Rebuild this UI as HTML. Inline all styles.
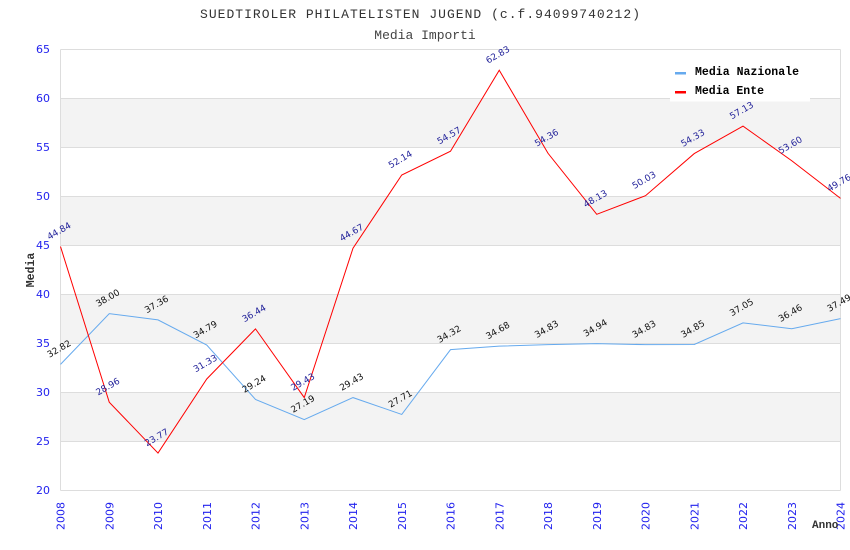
<!DOCTYPE html>
<html><head><meta charset="utf-8"><style>
html,body{margin:0;padding:0;background:#fff;}
svg{display:block;}
</style></head><body>
<svg width="850" height="550" viewBox="0 0 850 550" xmlns="http://www.w3.org/2000/svg">
<rect width="850" height="550" fill="#fff"/>
<text x="420" y="18" text-anchor="middle" font-family="Liberation Mono, monospace" font-size="13" fill="#333" textLength="440" lengthAdjust="spacing">SUEDTIROLER PHILATELISTEN JUGEND (c.f.94099740212)</text>
<text x="425" y="39" text-anchor="middle" font-family="Liberation Mono, monospace" font-size="13" fill="#444">Media Importi</text>
<g fill="#f3f3f3">
<rect x="60.5" y="98" width="780" height="49"/>
<rect x="60.5" y="196" width="780" height="49"/>
<rect x="60.5" y="294" width="780" height="49"/>
<rect x="60.5" y="392" width="780" height="49"/>
</g>
<g stroke="#dddddd" stroke-width="1">
<line x1="60.5" y1="49.5" x2="840.5" y2="49.5"/>
<line x1="60.5" y1="98.5" x2="840.5" y2="98.5"/>
<line x1="60.5" y1="147.5" x2="840.5" y2="147.5"/>
<line x1="60.5" y1="196.5" x2="840.5" y2="196.5"/>
<line x1="60.5" y1="245.5" x2="840.5" y2="245.5"/>
<line x1="60.5" y1="294.5" x2="840.5" y2="294.5"/>
<line x1="60.5" y1="343.5" x2="840.5" y2="343.5"/>
<line x1="60.5" y1="392.5" x2="840.5" y2="392.5"/>
<line x1="60.5" y1="441.5" x2="840.5" y2="441.5"/>
<line x1="60.5" y1="490.5" x2="840.5" y2="490.5"/>
<line x1="60.5" y1="49.5" x2="60.5" y2="490.5"/>
<line x1="840.5" y1="49.5" x2="840.5" y2="490.5"/>
</g>
<g font-family="DejaVu Sans, sans-serif" font-size="11" fill="#2222ee" text-anchor="end">
<text x="50" y="53">65</text>
<text x="50" y="102">60</text>
<text x="50" y="151">55</text>
<text x="50" y="200">50</text>
<text x="50" y="249">45</text>
<text x="50" y="298">40</text>
<text x="50" y="347">35</text>
<text x="50" y="396">30</text>
<text x="50" y="445">25</text>
<text x="50" y="494">20</text>
</g>
<g font-family="DejaVu Sans, sans-serif" font-size="11" fill="#2222ee" text-anchor="end">
<text transform="translate(64.5,502) rotate(-90)">2008</text>
<text transform="translate(113.25,502) rotate(-90)">2009</text>
<text transform="translate(162,502) rotate(-90)">2010</text>
<text transform="translate(210.75,502) rotate(-90)">2011</text>
<text transform="translate(259.5,502) rotate(-90)">2012</text>
<text transform="translate(308.25,502) rotate(-90)">2013</text>
<text transform="translate(357,502) rotate(-90)">2014</text>
<text transform="translate(405.75,502) rotate(-90)">2015</text>
<text transform="translate(454.5,502) rotate(-90)">2016</text>
<text transform="translate(503.25,502) rotate(-90)">2017</text>
<text transform="translate(552,502) rotate(-90)">2018</text>
<text transform="translate(600.75,502) rotate(-90)">2019</text>
<text transform="translate(649.5,502) rotate(-90)">2020</text>
<text transform="translate(698.25,502) rotate(-90)">2021</text>
<text transform="translate(747,502) rotate(-90)">2022</text>
<text transform="translate(795.75,502) rotate(-90)">2023</text>
<text transform="translate(844.5,502) rotate(-90)">2024</text>
</g>
<text transform="translate(34,270) rotate(-90)" text-anchor="middle" font-family="Liberation Mono, monospace" font-weight="bold" font-size="11.5" fill="#333">Media</text>
<text x="812" y="528" font-family="Liberation Mono, monospace" font-weight="bold" font-size="11" fill="#333">Anno</text>
<polyline fill="none" stroke="#66aaee" stroke-width="1" points="60.5,364.36 109.25,313.6 158,319.87 206.75,345.06 255.5,399.45 304.25,419.54 353,397.59 401.75,414.44 450.5,349.66 499.25,346.14 548,344.67 596.75,343.59 645.5,344.67 694.25,344.47 743,322.91 791.75,328.69 840.5,318.6"/>
<polyline fill="none" stroke="#ff0000" stroke-width="1" points="60.5,246.57 109.25,402.19 158,453.05 206.75,378.97 255.5,328.89 304.25,397.59 353,248.23 401.75,175.03 450.5,151.21 499.25,70.27 548,153.27 596.75,214.33 645.5,195.71 694.25,153.57 743,126.13 791.75,160.72 840.5,198.35"/>
<g font-family="DejaVu Sans, sans-serif" font-size="9" fill="#111" text-anchor="middle">
<text transform="translate(60.5,351.4) rotate(-30)">32.82</text>
<text transform="translate(109.25,300.6) rotate(-30)">38.00</text>
<text transform="translate(158,306.9) rotate(-30)">37.36</text>
<text transform="translate(206.75,332.1) rotate(-30)">34.79</text>
<text transform="translate(255.5,386.5) rotate(-30)">29.24</text>
<text transform="translate(304.25,406.5) rotate(-30)">27.19</text>
<text transform="translate(353,384.6) rotate(-30)">29.43</text>
<text transform="translate(401.75,401.4) rotate(-30)">27.71</text>
<text transform="translate(450.5,336.7) rotate(-30)">34.32</text>
<text transform="translate(499.25,333.1) rotate(-30)">34.68</text>
<text transform="translate(548,331.7) rotate(-30)">34.83</text>
<text transform="translate(596.75,330.6) rotate(-30)">34.94</text>
<text transform="translate(645.5,331.7) rotate(-30)">34.83</text>
<text transform="translate(694.25,331.5) rotate(-30)">34.85</text>
<text transform="translate(743,309.9) rotate(-30)">37.05</text>
<text transform="translate(791.75,315.7) rotate(-30)">36.46</text>
<text transform="translate(840.5,305.6) rotate(-30)">37.49</text>
</g>
<g font-family="DejaVu Sans, sans-serif" font-size="9" fill="#22229a" text-anchor="middle">
<text transform="translate(60.5,233.6) rotate(-30)">44.84</text>
<text transform="translate(109.25,389.2) rotate(-30)">28.96</text>
<text transform="translate(158,440) rotate(-30)">23.77</text>
<text transform="translate(206.75,366) rotate(-30)">31.33</text>
<text transform="translate(255.5,315.9) rotate(-30)">36.44</text>
<text transform="translate(304.25,384.6) rotate(-30)">29.43</text>
<text transform="translate(353,235.2) rotate(-30)">44.67</text>
<text transform="translate(401.75,162) rotate(-30)">52.14</text>
<text transform="translate(450.5,138.2) rotate(-30)">54.57</text>
<text transform="translate(499.25,57.3) rotate(-30)">62.83</text>
<text transform="translate(548,140.3) rotate(-30)">54.36</text>
<text transform="translate(596.75,201.3) rotate(-30)">48.13</text>
<text transform="translate(645.5,182.7) rotate(-30)">50.03</text>
<text transform="translate(694.25,140.6) rotate(-30)">54.33</text>
<text transform="translate(743,113.1) rotate(-30)">57.13</text>
<text transform="translate(791.75,147.7) rotate(-30)">53.60</text>
<text transform="translate(840.5,185.4) rotate(-30)">49.76</text>
</g>
<rect x="670" y="57" width="140" height="44.5" fill="#fff"/>
<rect x="675" y="72" width="11" height="2.5" fill="#66aaee"/>
<rect x="675" y="91" width="11" height="2.5" fill="#ff0000"/>
<g font-family="Liberation Mono, monospace" font-weight="bold" font-size="11.5" fill="#000">
<text x="695" y="75" textLength="104" lengthAdjust="spacing">Media Nazionale</text>
<text x="695" y="94">Media Ente</text>
</g>
</svg>
</body></html>
